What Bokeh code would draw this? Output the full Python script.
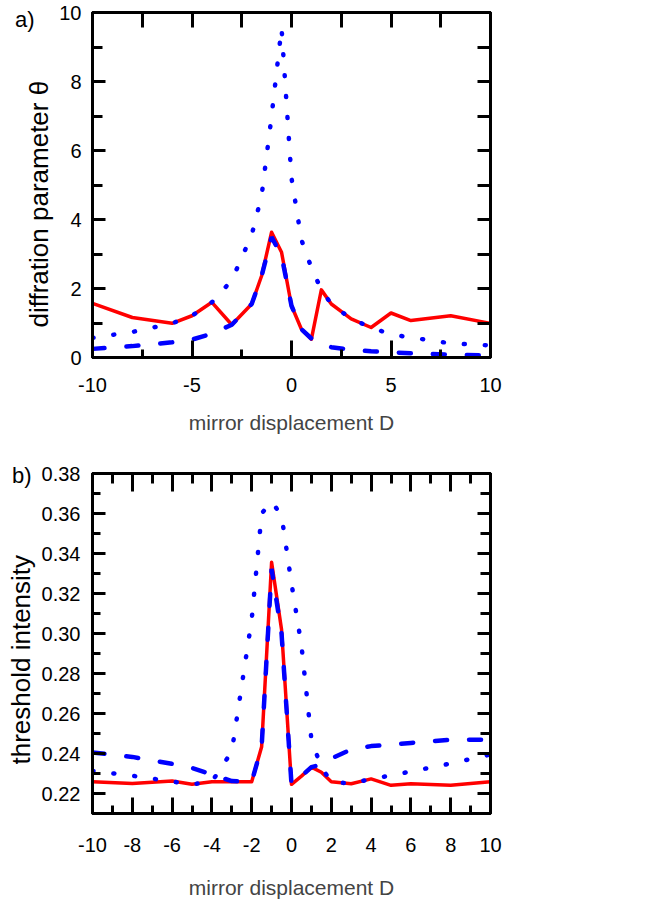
import math
from bokeh.plotting import figure
from bokeh.models import LinearAxis, FixedTicker, Range1d, Title
from bokeh.layouts import column
from bokeh.embed import file_html
from bokeh.resources import INLINE

# ---------------- data ----------------
D = [-10, -8, -6, -5, -4, -3, -2, -1.5, -1, -0.5, 0, 0.5, 1, 1.5, 2, 3, 4, 5, 6, 8, 10]

theta_solid = [1.57, 1.16, 0.99, 1.21, 1.60, 0.95, 1.55, 2.37, 3.63, 3.05, 1.50,
               0.82, 0.53, 1.96, 1.55, 1.12, 0.87, 1.29, 1.07, 1.21, 0.99]
theta_dash = [0.25, 0.33, 0.44, 0.52, 0.69, 0.95, 1.55, 2.37, 3.49, 2.95, 1.50,
              0.82, 0.55, 0.39, 0.30, 0.22, 0.18, 0.15, 0.12, 0.08, 0.06]
theta_dot = [0.57, 0.74, 0.99, 1.21, 1.60, 2.24, 3.55, 4.70, 7.00, 9.55, 5.20,
             3.41, 2.60, 1.96, 1.55, 1.12, 0.87, 0.67, 0.58, 0.41, 0.35]

thr_solid = [0.2259, 0.2250, 0.2262, 0.2246, 0.2259, 0.2259, 0.2259, 0.2434, 0.3356, 0.3020, 0.2246,
             0.2287, 0.2332, 0.2306, 0.2259, 0.2249, 0.2273, 0.2241, 0.2249, 0.2241, 0.2259]
thr_dash = [0.2405, 0.2383, 0.2348, 0.2328, 0.2295, 0.2262, 0.2259, 0.2434, 0.3323, 0.3000, 0.2246,
            0.2287, 0.2332, 0.2345, 0.2375, 0.2420, 0.2437, 0.2444, 0.2453, 0.2469, 0.2469]
thr_dot = [0.2313, 0.2289, 0.2260, 0.2246, 0.2259, 0.2410, 0.3070, 0.3600, 0.3660, 0.3590, 0.3250,
           0.2940, 0.2470, 0.2330, 0.2259, 0.2249, 0.2273, 0.2290, 0.2310, 0.2350, 0.2395]

a_xticks = [-10, -5, 0, 5, 10]
a_xtick_labels = ["-10", "-5", "0", "5", "10"]
a_xminor = [-7.5, -2.5, 2.5, 7.5]
a_yticks = [0, 2, 4, 6, 8, 10]
a_ytick_labels = ["0", "2", "4", "6", "8", "10"]
a_yminor = [1, 3, 5, 7, 9]

b_xticks = [-10, -8, -6, -4, -2, 0, 2, 4, 6, 8, 10]
b_xtick_labels = ["-10", "-8", "-6", "-4", "-2", "0", "2", "4", "6", "8", "10"]
b_xminor = [-9, -7, -5, -3, -1, 1, 3, 5, 7, 9]
b_yticks = [0.22, 0.24, 0.26, 0.28, 0.30, 0.32, 0.34, 0.36, 0.38]
b_ytick_labels = ["0.22", "0.24", "0.26", "0.28", "0.30", "0.32", "0.34", "0.36", "0.38"]
b_yminor = [0.21, 0.23, 0.25, 0.27, 0.29, 0.31, 0.33, 0.35, 0.37]

# panel tags and the y value beside which each one sits
tag_a, tag_a_y = "a)", 9.8
tag_b, tag_b_y = "b)", 0.3792

FONT = "Liberation Sans"
RED = "#ff0000"
BLUE = "#0000ff"


def style_axis(ax, major, minor, labels, tin, tmin, show=True, standoff=12):
    ax.ticker = FixedTicker(ticks=major, minor_ticks=minor)
    ax.axis_line_width = 3
    ax.axis_line_color = "black"
    ax.major_tick_in = tin
    ax.major_tick_out = 0
    ax.minor_tick_in = tmin
    ax.minor_tick_out = 0
    ax.major_tick_line_width = 3
    ax.minor_tick_line_width = 3
    ax.major_tick_line_color = "black"
    ax.minor_tick_line_color = "black"
    if show:
        ax.major_label_overrides = {t: s for t, s in zip(major, labels)}
        ax.major_label_text_font = FONT
        ax.major_label_text_font_size = "20px"
        ax.major_label_text_color = "black"
        ax.major_label_standoff = standoff
    else:
        ax.major_label_text_font_size = "0px"
        ax.major_label_text_color = None
        ax.major_label_standoff = 0


def make_fig(height, yr, bt, bb):
    p = figure(width=520, height=height, x_range=Range1d(-10, 10), y_range=Range1d(*yr),
               output_backend="svg", toolbar_location=None,
               min_border_left=90, min_border_right=30, min_border_top=bt, min_border_bottom=bb)
    p.grid.visible = False
    p.outline_line_color = "black"
    p.outline_line_width = 3
    p.background_fill_color = "white"
    p.border_fill_color = "white"
    return p


def draw(p, ysolid, ydash, ydot):
    p.line(D, ysolid, line_color=RED, line_width=3.5, line_join="round")
    p.line(D, ydash, line_color=BLUE, line_width=4.5, line_dash="12 22", line_cap="round")
    p.line(D, ydot, line_color=BLUE, line_width=4.5, line_dash="1 20", line_cap="round")


def ytitle(p, text, offset):
    t = Title(text=text, align="left", offset=offset, text_font=FONT,
              text_font_size="26px", text_font_style="normal", text_color="black",
              standoff=6)
    p.add_layout(t, "left")


def panel_tag(p, text, yval, standoff):
    # an outermost left axis without line or ticks that carries only the panel tag
    ax = LinearAxis()
    ax.ticker = FixedTicker(ticks=[yval], minor_ticks=[])
    ax.axis_line_color = None
    ax.major_tick_line_color = None
    ax.minor_tick_line_color = None
    ax.major_tick_in = 0
    ax.major_tick_out = 0
    ax.minor_tick_in = 0
    ax.minor_tick_out = 0
    ax.major_label_overrides = {yval: text}
    ax.major_label_text_font = FONT
    ax.major_label_text_font_size = "22px"
    ax.major_label_text_color = "black"
    ax.major_label_standoff = standoff
    p.add_layout(ax, "left")


# ---------------- panel a ----------------
pa = make_fig(450, (0, 10), 12, 93)
draw(pa, theta_solid, theta_dash, theta_dot)
style_axis(pa.xaxis[0], a_xticks, a_xminor, a_xtick_labels, 17, 8, standoff=20)
style_axis(pa.yaxis[0], a_yticks, a_yminor, a_ytick_labels, 13, 10, standoff=11)
pa.xaxis[0].axis_label = "mirror displacement D"
pa.xaxis[0].axis_label_text_font = FONT
pa.xaxis[0].axis_label_text_font_size = "21px"
pa.xaxis[0].axis_label_text_font_style = "normal"
pa.xaxis[0].axis_label_standoff = 16
top_a = LinearAxis()
style_axis(top_a, [-10, -7.5, -5, -2.5, 0, 2.5, 5, 7.5, 10], [], [], 15, 0, show=False)
pa.add_layout(top_a, "above")
right_a = LinearAxis()
style_axis(right_a, list(range(0, 11)), [], [], 13, 0, show=False)
pa.add_layout(right_a, "right")
ytitle(pa, "diffration parameter \u03b8", 30)
panel_tag(pa, tag_a, tag_a_y, -16)

# ---------------- panel b ----------------
pb = make_fig(451, (0.21, 0.38), 23, 80)
draw(pb, thr_solid, thr_dash, thr_dot)
style_axis(pb.xaxis[0], b_xticks, b_xminor, b_xtick_labels, 16, 8, standoff=24)
style_axis(pb.yaxis[0], b_yticks, b_yminor, b_ytick_labels, 13, 8, standoff=12)
pb.xaxis[0].axis_label = "mirror displacement D"
pb.xaxis[0].axis_label_text_font = FONT
pb.xaxis[0].axis_label_text_font_size = "21px"
pb.xaxis[0].axis_label_text_font_style = "normal"
pb.xaxis[0].axis_label_standoff = 21
top_b = LinearAxis()
style_axis(top_b, b_xticks, b_xminor, [], 18, 10, show=False)
pb.add_layout(top_b, "above")
right_b = LinearAxis()
style_axis(right_b, b_yticks, b_yminor, [], 13, 10, show=False)
pb.add_layout(right_b, "right")
ytitle(pb, "threshold intensity", 49)
panel_tag(pb, tag_b, tag_b_y, -31)

layout = column(pa, pb, spacing=0)
open("out.html", "w").write(file_html(layout, INLINE))
